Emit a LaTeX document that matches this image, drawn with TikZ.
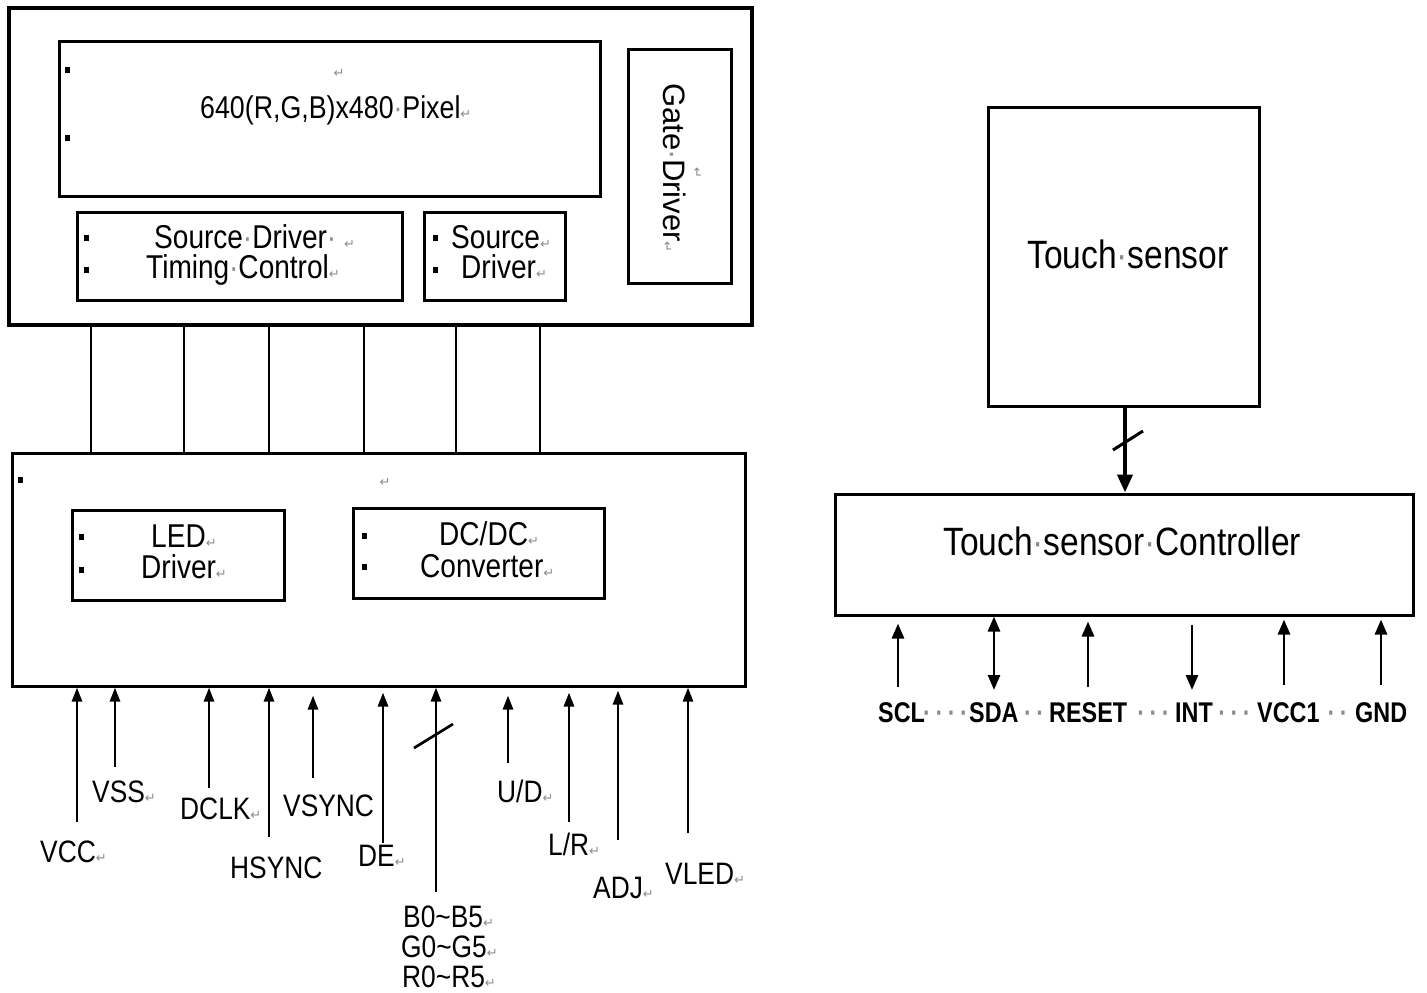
\documentclass[tikz,border=0pt]{standalone}
\usepackage{fontspec}
\setmainfont{Liberation Sans}
\newfontfamily\cnd{Liberation Sans}[FakeStretch=0.85]
\newfontfamily\tlb{Liberation Sans}[FakeStretch=0.82]
\newfontfamily\djv{DejaVu Sans}
\usetikzlibrary{arrows.meta}
\definecolor{mk}{gray}{0.55}
\newcommand\spmark{\hbox to 0.278em{\hss\textcolor{mk}{·}\hss}}
\newcommand\retmark{{\djv\fontsize{13}{13}\selectfont\textcolor{mk}{↵}}}
\begin{document}
\begin{tikzpicture}[x=1pt,y=-1pt,line join=miter,
  box/.style={draw,line width=3pt,inner sep=0pt,fill=white},
  bigbox/.style={box,line width=4pt},
  wire/.style={line width=2.7pt},
  arr/.style={line width=2.7pt,-{Triangle[length=14pt,width=10pt]}},
  tarr/.style={line width=2.8pt,-{Triangle[length=15pt,width=12pt]}},
  tdarr/.style={line width=2.8pt,{Triangle[length=15pt,width=12pt]}-{Triangle[length=15pt,width=12pt]}},
  sarr/.style={line width=4pt,-{Triangle[length=18pt,width=15pt]}},
  lbl/.style={inner sep=0pt,anchor=base west,font=\cnd\fontsize{31}{32}\selectfont},
  btxt/.style={inner sep=0pt,anchor=base west,font=\cnd\fontsize{33}{34}\selectfont},
  bigtxt/.style={inner sep=0pt,anchor=base west,font=\cnd\fontsize{39.5}{40}\selectfont},
  tlab/.style={inner sep=0pt,anchor=base west,font=\tlb\bfseries\fontsize{28.5}{29}\selectfont},
  tdots/.style={inner sep=0pt,anchor=base,text=mk,font=\tlb\bfseries\fontsize{28}{28}\selectfont},
  pmark/.style={inner sep=0pt}
]
\fill[white] (0,0) rectangle (1427,993);
\useasboundingbox (0,0) rectangle (1427,993);

% ---------- boxes ----------
\node[bigbox,minimum width=743pt,minimum height=317pt] (top) at (380.5,166.5) {};
\node[box,minimum width=541pt,minimum height=155pt] (pix) at (329.5,118.5) {};
\node[box,minimum width=103pt,minimum height=234pt] (gate) at (679.5,166) {};
\node[box,minimum width=325pt,minimum height=88pt] (sdtc) at (239.5,256) {};
\node[box,minimum width=141pt,minimum height=88pt] (sd) at (494.5,256) {};
\node[box,minimum width=733pt,minimum height=233pt] (bot) at (378.5,569.5) {};
\node[box,minimum width=212pt,minimum height=90pt] (led) at (178,555) {};
\node[box,minimum width=251pt,minimum height=90pt] (dcdc) at (478.5,553) {};
\node[box,minimum width=271pt,minimum height=299pt] (ts) at (1123.5,256.5) {};
\node[box,minimum width=578pt,minimum height=121pt] (tsc) at (1124,554.5) {};

% ---------- box texts ----------
\node[btxt] (pixt) at (200,118) {\fontsize{31.5}{32}\selectfont 640(R,G,B)x480\spmark Pixel\retmark};
\node[pmark] (pixr) at (339,73) {\retmark};
\node[inner sep=0pt,anchor=base west,rotate=-90,font=\fontsize{31}{32}\selectfont] (gatet) at (663,83) {Gate\spmark Driver\retmark};
\node[pmark,rotate=-90] (gater) at (697,173) {\retmark};
\node[btxt] (sdtc1) at (154,248) {Source\spmark Driver\spmark\ \retmark};
\node[btxt] (sdtc2) at (146,278) {Timing\spmark Control\retmark};
\node[btxt] (sd1) at (451,248) {Source\retmark};
\node[btxt] (sd2) at (461,278) {Driver\retmark};
\node[pmark] (botr) at (385,482) {\retmark};
\node[btxt] (led1) at (151,547) {LED\retmark};
\node[btxt] (led2) at (141,578) {Driver\retmark};
\node[btxt] (dc1) at (439,545) {DC/DC\retmark};
\node[btxt] (dc2) at (420,577) {Converter\retmark};
\node[bigtxt] (tst) at (1027,268) {Touch\spmark sensor};
\node[bigtxt] (tsct) at (943,555) {Touch\spmark sensor\spmark Controller};

% ---------- bullets ----------
\foreach \bx/\by in {67/70,67/138,86/238,86/270,435/238,435/270,20/480,81/537,81/570,364/536,364/567}
  \fill (\bx-2.5,\by-3.2) rectangle (\bx+2.5,\by+3.2);

% ---------- top-to-bottom connectors ----------
\foreach \cx [count=\i] in {91,184,269,364,456,540}{
  \coordinate (c\i) at (\cx,390);
  \draw[wire] (c\i |- top.south) -- (c\i |- bot.north);
}

% ---------- bottom input arrows ----------
\coordinate (vccE) at (77,822);
\coordinate (vssE) at (115,767);
\coordinate (dclkE) at (209,788);
\coordinate (hsyncE) at (269,837);
\coordinate (vsyncE) at (313,778);
\coordinate (deE) at (383,843);
\coordinate (rgbE) at (436,892);
\coordinate (udE) at (508,763);
\coordinate (lrE) at (569,822);
\coordinate (adjE) at (618,840);
\coordinate (vledE) at (688,833);
\draw[arr] (vccE) -- (vccE |- bot.south);
\draw[arr] (vssE) -- (vssE |- bot.south);
\draw[arr] (dclkE) -- (dclkE |- bot.south);
\draw[arr] (hsyncE) -- (hsyncE |- bot.south);
\draw[arr] (vsyncE) -- ([yshift=-8pt]vsyncE |- bot.south);
\draw[arr] (deE) -- ([yshift=-5pt]deE |- bot.south);
\draw[arr] (rgbE) -- (rgbE |- bot.south);
\draw[arr] (udE) -- ([yshift=-8pt]udE |- bot.south);
\draw[arr] (lrE) -- ([yshift=-5pt]lrE |- bot.south);
\draw[arr] (adjE) -- ([yshift=-3pt]adjE |- bot.south);
\draw[arr] (vledE) -- (vledE |- bot.south);
\draw[wire] (414,748) -- (453,724);

% ---------- bottom labels ----------
\node[lbl] (vcc) at (40,862) {VCC\retmark};
\node[lbl] (vss) at (92,802) {VSS\retmark};
\node[lbl] (dclk) at (180,819) {DCLK\retmark};
\node[lbl] (hsync) at (230,878) {HSYNC};
\node[lbl] (vsync) at (283,816) {VSYNC};
\node[lbl] (de) at (358,866) {DE\retmark};
\node[lbl] (b05) at (403,927) {B0\char`~B5\retmark};
\node[lbl] (g05) at (401,957) {G0\char`~G5\retmark};
\node[lbl] (r05) at (402,987) {R0\char`~R5\retmark};
\node[lbl] (ud) at (497,802) {U/D\retmark};
\node[lbl] (lr) at (548,855) {L/R\retmark};
\node[lbl] (adj) at (593,898) {ADJ\retmark};
\node[lbl] (vled) at (665,884) {VLED\retmark};

% ---------- touch part ----------
\coordinate (tsX) at (1125,450);
\draw[sarr] (tsX |- ts.south) -- (tsX |- tsc.north);
\draw[line width=3pt] (1113,450) -- (1143,431);

\coordinate (sclE) at (898,687);
\coordinate (sdaE) at (994,690);
\coordinate (rstE) at (1088,687);
\coordinate (intE) at (1192,690);
\coordinate (vcc1E) at (1284,685);
\coordinate (gndE) at (1381,685);
\draw[tarr] (sclE) -- ([yshift=-7pt]sclE |- tsc.south);
\draw[tdarr] (sdaE |- tsc.south) -- (sdaE);
\draw[tarr] (rstE) -- ([yshift=-5pt]rstE |- tsc.south);
\draw[tarr] ([yshift=-8pt]intE |- tsc.south) -- (intE);
\draw[tarr] (vcc1E) -- ([yshift=-3pt]vcc1E |- tsc.south);
\draw[tarr] (gndE) -- ([yshift=-3pt]gndE |- tsc.south);

\node[tlab] (scl) at (878,722) {SCL};
\node[tlab] (sda) at (969,722) {SDA};
\node[tlab] (rst) at (1049,722) {RESET};
\node[tlab] (int) at (1175,722) {INT};
\node[tlab] (vcc1) at (1257,722) {VCC1};
\node[tlab] (gnd) at (1355,722) {GND};
\node[tdots] (d1) at (945.5,722) {·\,·\,·\,·};
\node[tdots] (d2) at (1034,722) {·\,·};
\node[tdots] (d3) at (1153.5,722) {·\,·\,·};
\node[tdots] (d4) at (1234.5,722) {·\,·\,·};
\node[tdots] (d5) at (1337.5,722) {·\,·};
\end{tikzpicture}
\end{document}
